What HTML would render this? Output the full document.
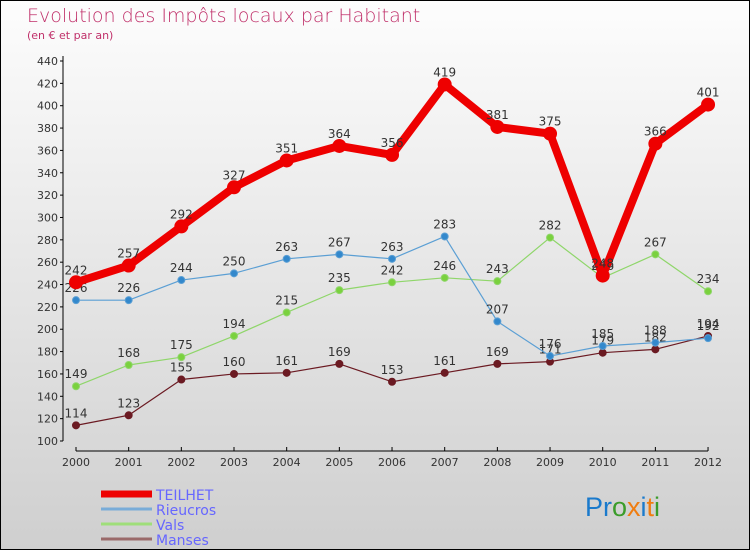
<!DOCTYPE html>
<html><head><meta charset="utf-8"><style>
body{margin:0}
#c{width:748px;height:548px;border:1px solid #000;background:linear-gradient(#fdfdfd,#cfcfcf);position:relative;font-family:"DejaVu Sans","Liberation Sans",sans-serif;overflow:hidden}
</style></head><body>
<div id="c">
<svg id="s" width="748" height="548" xmlns="http://www.w3.org/2000/svg">
<text x="26" y="21" font-size="19" fill="#c0306a" font-weight="200">Evolution des Impôts locaux par Habitant</text>
<text x="26" y="38" font-size="11" fill="#c0306a">(en € et par an)</text>
<text x="584" y="515" font-size="27" font-family="Liberation Sans,sans-serif"><tspan fill="#1a7acc">Pr</tspan><tspan fill="#3a9c2a">o</tspan><tspan fill="#f07d10">x</tspan><tspan fill="#1a7acc">i</tspan><tspan fill="#f07d10">t</tspan><tspan fill="#3a9c2a">i</tspan></text>
</svg>
</div>
<script>
const years=["2000","2001","2002","2003","2004","2005","2006","2007","2008","2009","2010","2011","2012"];
const yTicks=[100,120,140,160,180,200,220,240,260,280,300,320,340,360,380,400,420,440];
const teilhet=[242,257,292,327,351,364,356,419,381,375,248,366,401];
const rieucros=[226,226,244,250,263,267,263,283,207,176,185,188,192];
const vals=[149,168,175,194,215,235,242,246,243,282,246,267,234];
const manses=[114,123,155,160,161,169,153,161,169,171,179,182,194];
const NS="http://www.w3.org/2000/svg",s=document.getElementById('s');
const X=i=>75+i*52.67, Y=v=>440-(v-100)*380/340;
function el(t,a,p){const e=document.createElementNS(NS,t);for(const k in a)e.setAttribute(k,a[k]);(p||s).appendChild(e);return e;}
let e=el('line',{x1:62,y1:55,x2:62,y2:440,stroke:'#000'});


e=el('line',{x1:75,y1:450,x2:707,y2:450,stroke:'#000'});


yTicks.forEach(v=>{
 el('line',{x1:59,x2:62,y1:Y(v),y2:Y(v),stroke:'#000'});
 const t=el('text',{x:57,y:Y(v)+4,'text-anchor':'end','font-size':11,fill:'#333'});t.textContent=v;
 
 
});
years.forEach((y,i)=>{
 el('line',{x1:X(i),x2:X(i),y1:446,y2:450,stroke:'#000'});
 const t=el('text',{x:X(i),y:465,'text-anchor':'middle','font-size':11,fill:'#333'});t.textContent=y;
 
 
});
function series(d,c,w,r,fill,name){
 const g=el('g',{});
 
 
 el('polyline',{points:d.map((v,i)=>X(i)+','+Y(v)).join(' '),fill:'none',stroke:c,'stroke-width':w,'stroke-linejoin':'round'},g);
 d.forEach((v,i)=>{
  const p=el('circle',{cx:X(i),cy:Y(v),r:r,fill:fill,stroke:c,'stroke-width':1},g);
  
  
  const t=el('text',{x:X(i),y:Y(v)-8,'text-anchor':'middle','font-size':12,fill:'#333'},g);t.textContent=v;
  
  
 });
}
series(manses,'#6b1a22',1.2,3.5,'#6b1a22','manses');
series(vals,'#8fd66a',1.2,3.5,'#7ad13e','vals');
series(rieucros,'#5b9fd4',1.2,3.5,'#3388cc','rieucros');
series(teilhet,'#ee0000',8,6.5,'#ee0000','teilhet');
const leg=[["TEILHET","#ee0000",7],["Rieucros","#79acd8",3],["Vals","#9fde7a",3],["Manses","#9a6a6a",3]];
leg.forEach((l,i)=>{
 const y=493+i*15;
 const g=el('g',{});
 
 
 el('line',{x1:100,x2:151,y1:y,y2:y,stroke:l[1],'stroke-width':l[2]},g);
 const t=el('text',{x:155,y:y+6,'font-size':14,fill:'#6666ff'},g);t.textContent=l[0];
});
</script>
</body></html>
